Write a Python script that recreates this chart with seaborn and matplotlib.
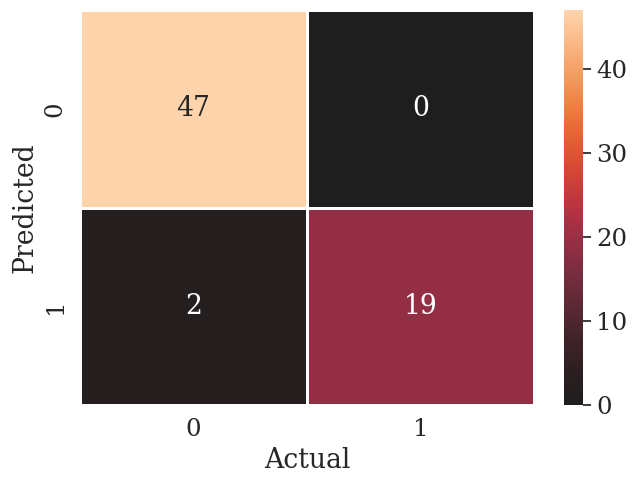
import matplotlib
matplotlib.use("Agg")
import matplotlib.pyplot as plt
import seaborn as sns
import numpy as np

labels = ["0", "1"]
row0 = [47, 0]
row1 = [2, 19]

sns.set_theme(style="white", font="serif", font_scale=1.6)
plt.rcParams['font.family'] = ['DejaVu Serif']

data = np.array([row0, row1])
fig = plt.figure(figsize=(6.33, 4.83), dpi=100)
ax = fig.add_axes([80/633, 1-405/483, 454/633, 395/483])
cax = fig.add_axes([564/633, 1-405/483, 19/633, 395/483])
sns.heatmap(data, annot=True, fmt="d", cmap="icefire", center=0,
            linewidths=2, linecolor="white", xticklabels=labels,
            yticklabels=labels, ax=ax, cbar_ax=cax)
ax.set_xlabel("Actual")
ax.set_ylabel("Predicted")
fig.savefig("out.png", dpi=100)
